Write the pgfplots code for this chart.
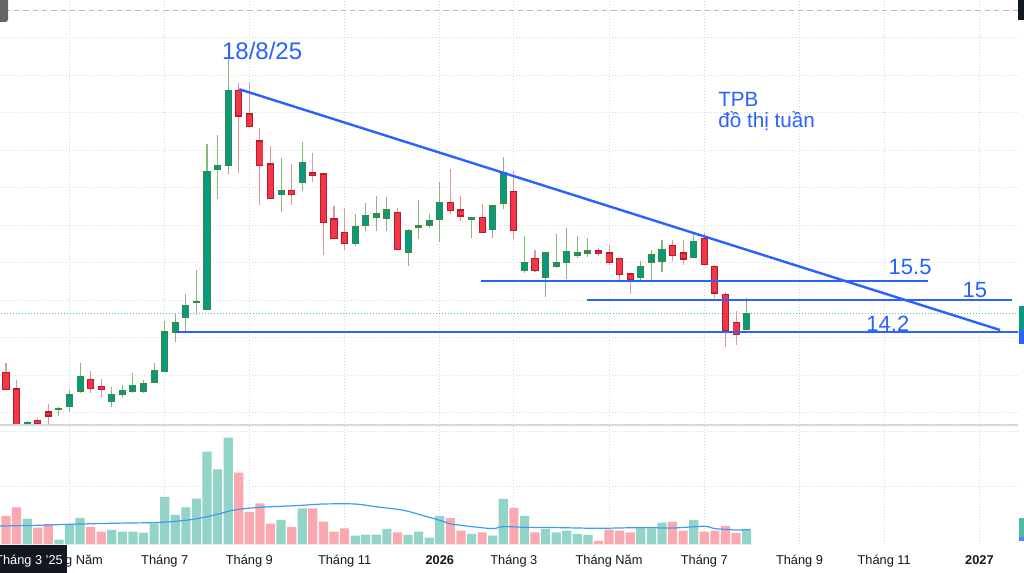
\documentclass[border=0pt]{standalone}
\usepackage{fontspec}
\setmainfont{Liberation Sans}
\usepackage{pgfplots}
\pgfplotsset{compat=1.18}
\usepackage{pgfplotstable}

\definecolor{upbody}{HTML}{089981}
\definecolor{upedge}{HTML}{3B8A3E}
\definecolor{upwick}{HTML}{86B97C}
\definecolor{dnbody}{HTML}{F23645}
\definecolor{dnedge}{HTML}{B71C2C}
\definecolor{dnwick}{HTML}{E3959C}
\definecolor{volup}{HTML}{92D4C8}
\definecolor{voldn}{HTML}{F9A9AF}
\definecolor{tvblue}{HTML}{2962FF}
\definecolor{mablue}{HTML}{3D9BF5}
\definecolor{gridc}{HTML}{D5D8DE}
\definecolor{txt}{HTML}{131722}
\definecolor{lastp}{HTML}{4CC3B0}

% weekly candles, i = week index (0 = week of 24/3/2025)
\pgfplotstableread{
i o h l c v
2 11.667 11.773 11.65 11.728 25.3
5 12.08 12.139 11.907 12.09 4.7
6 12.173 12.6 12.021 12.467 19.7
7 12.581 13.312 12.528 12.947 26.3
10 12.307 12.672 12.139 12.467 14.3
11 12.493 12.733 12.379 12.573 12.7
12 12.581 13.061 12.528 12.715 12.7
13 12.581 12.867 12.528 12.752 11.7
14 12.821 13.312 12.779 13.107 21
15 13.107 14.44 13.088 14.139 47.3
16 14.155 14.619 13.872 14.379 29.3
17 14.539 15.152 14.155 14.848 37
18 14.94 15.8 14.6 14.96 45.7
19 14.76 19.16 14.74 18.421 92.7
20 18.493 19.4 17.685 18.581 75
21 18.6 21.72 18.36 20.581 106.7
26 17.827 18.779 17.339 17.915 24.3
28 18.147 19.205 17.915 18.661 36
33 16.512 17.285 16.448 16.939 8.7
34 17.0 17.579 16.848 17.24 9.7
35 17.221 17.781 16.848 17.285 9.7
36 17.195 17.739 16.848 17.392 15.3
38 16.288 16.893 15.907 16.832 9.3
39 16.955 17.667 16.619 16.975 12.7
40 16.992 17.285 16.912 17.099 6.7
41 17.152 18.155 16.555 17.587 28.3
44 17.152 17.221 16.645 17.195 10.3
46 16.893 17.5 16.645 17.499 8.7
47 17.595 18.805 17.419 18.379 45.3
49 15.792 16.707 15.707 15.995 28.3
51 15.605 16.293 15.093 16.245 15.3
52 15.907 16.752 15.861 16.0 12
53 16.005 16.912 15.552 16.288 13.7
54 16.192 16.707 16.112 16.253 10.3
55 16.245 16.645 16.155 16.299 9.3
60 15.605 16.05 15.533 15.88 16.7
61 16.005 16.33 15.533 16.192 16
62 16.048 16.6 15.739 16.333 21.7
65 16.139 16.779 16.13 16.547 24.3
70 14.235 15.045 14.23 14.63 15.3
}\up

\pgfplotstableread{
i o h l c v
0 13.061 13.328 12.6 12.627 28.3
1 12.619 12.867 11.55 11.587 37
3 11.773 11.845 11.667 11.728 16.7
4 12.005 12.219 11.65 11.915 20.3
8 12.867 13.107 12.528 12.645 17.3
9 12.68 12.885 12.379 12.627 12.7
22 20.581 20.779 18.395 19.915 71.7
23 19.952 20.821 19.63 19.64 32.3
24 19.232 19.579 17.533 18.6 41
25 18.619 19.107 17.70 17.712 20.7
27 17.907 18.627 17.533 17.819 17.3
29 18.379 18.928 18.155 18.333 36
30 18.352 18.36 16.2 17.072 22.7
31 17.152 17.515 16.64 16.645 12.7
32 16.795 17.445 16.333 16.512 16
37 17.328 17.445 16.35 16.352 12
42 17.587 18.493 17.301 17.392 26.3
43 17.392 17.781 17.107 17.248 13.7
45 17.195 17.552 16.80 16.805 12
48 17.888 18.448 16.619 16.853 36.3
50 16.093 16.333 15.747 15.787 12
56 16.299 16.379 16.173 16.245 3.3
57 16.245 16.459 15.941 16.005 14.7
58 16.093 16.10 15.507 15.685 13.7
59 15.685 15.69 15.16 15.56 12
63 16.44 16.6 16.048 16.192 22.7
64 16.245 16.6 15.941 16.101 13.7
66 16.635 16.779 15.95 15.952 12.7
67 15.88 15.933 15.061 15.195 13.7
68 15.141 15.213 13.755 14.2 18.3
69 14.395 14.707 13.8 14.093 11.3
}\down

% volume moving average
\pgfplotstableread{
i ma
-0.6 18.3
3 19
6 20
10 21
14 21.7
16 23
18 25.5
20 30
21 33
22 35
24 37
26 38
28 39
30 40.3
33 40.3
35 37.5
37 35
38 33
39 30
40 27
41 24
42 20.5
43 19
44 17.7
46 15.7
47 17.7
49 17
52 16.7
56 16
60 16.7
63 16.3
66 18
67 15.7
69 14.3
70.3 14.7
}\vma

\pgfplotsset{
  wicks/.style={draw=none, mark=none, forget plot,
    error bars/.cd, y dir=both, y explicit, error mark=none,
    error bar style={line width=0.8pt, draw=#1, solid}},
  bodies/.style 2 args={draw=none, mark=none, forget plot,
    error bars/.cd, y dir=both, y explicit, error mark=none,
    error bar style={line width=#2, draw=#1, solid}},
}

\begin{document}
\begin{tikzpicture}[x=0.75pt,y=0.75pt]
\fill[white] (0,0) rectangle (1024,573);
\useasboundingbox (0,0) rectangle (1024,573);

% ---------------- price pane ----------------
\begin{axis}[
  name=price,
  at={(0pt,111pt)}, anchor=south west,
  scale only axis, width=763.5pt, height=318.75pt,
  xmin=-0.567, xmax=95.65, ymin=11.667, ymax=23,
  axis line style={draw=none},
  xtick={6,15,23,32,41,48,57,66,75,83,92},
  ytick={12,13,...,22},
  xticklabels={}, yticklabels={},
  major tick length=0pt,
  xmajorgrids, ymajorgrids,
  grid style={gridc, line width=0.7pt, dash pattern=on 0.75pt off 1.5pt},
  clip=true,
]
% last-price line
\addplot[lastp, line width=0.7pt, dash pattern=on 0.75pt off 1.5pt, forget plot] coordinates {(-1,14.63) (97,14.63)};
% wicks
\addplot[wicks=upwick] table[x=i, y=c, y error plus expr={\thisrow{h}-\thisrow{c}}, y error minus expr={\thisrow{c}-\thisrow{l}}]{\up};
\addplot[wicks=dnwick] table[x=i, y=c, y error plus expr={\thisrow{h}-\thisrow{c}}, y error minus expr={\thisrow{c}-\thisrow{l}}]{\down};
% bodies: edge then fill
\addplot[bodies={upedge}{5.3pt}] table[x=i, y expr={(\thisrow{o}+\thisrow{c})/2}, y error expr={abs(\thisrow{c}-\thisrow{o})/2+0.024}]{\up};
\addplot[bodies={upbody}{3.9pt}] table[x=i, y expr={(\thisrow{o}+\thisrow{c})/2}, y error expr={max(abs(\thisrow{c}-\thisrow{o})/2-0.01,0)}]{\up};
\addplot[bodies={dnedge}{5.3pt}] table[x=i, y expr={(\thisrow{o}+\thisrow{c})/2}, y error expr={abs(\thisrow{c}-\thisrow{o})/2+0.024}]{\down};
\addplot[bodies={dnbody}{3.9pt}] table[x=i, y expr={(\thisrow{o}+\thisrow{c})/2}, y error expr={max(abs(\thisrow{c}-\thisrow{o})/2-0.01,0)}]{\down};

% drawn lines
\addplot[tvblue, line width=1.8pt, forget plot] coordinates {(22.05,20.62) (93.95,14.2)};
\addplot[tvblue, line width=1.8pt, forget plot] coordinates {(16.04,14.14) (96,14.14)};
\addplot[tvblue, line width=1.8pt, forget plot] coordinates {(44.9,15.5) (87.1,15.5)};
\addplot[tvblue, line width=1.8pt, forget plot] coordinates {(54.9,15.0) (95.1,15.0)};
% top dashed line
\addplot[gray!55, line width=1.1pt, dash pattern=on 4pt off 3pt, forget plot] coordinates {(-1,22.715) (97,22.715)};

% annotations
\node[anchor=base west, inner sep=0pt, text=tvblue, font=\fontsize{18}{20}\selectfont] at (axis cs:20.4,21.4) {18/8/25};
\node[anchor=base west, inner sep=0pt, text=tvblue, font=\fontsize{15.5}{18}\selectfont] at (axis cs:67.3,20.17) {TPB};
\node[anchor=base west, inner sep=0pt, text=tvblue, font=\fontsize{15.5}{18}\selectfont] at (axis cs:67.3,19.61) {đồ thị tuần};
\node[anchor=base west, inner sep=0pt, text=tvblue, font=\fontsize{16.5}{18}\selectfont] at (axis cs:83.4,15.69) {15.5};
\node[anchor=base west, inner sep=0pt, text=tvblue, font=\fontsize{16.5}{18}\selectfont] at (axis cs:90.4,15.08) {15};
\node[anchor=base west, inner sep=0pt, text=tvblue, font=\fontsize{16.5}{18}\selectfont] at (axis cs:81.3,14.17) {14.2};
\end{axis}

% ---------------- volume pane ----------------
\begin{axis}[
  name=vol,
  at={(0pt,21.525pt)}, anchor=south west,
  scale only axis, width=763.5pt, height=89.475pt,
  xmin=-0.567, xmax=95.65, ymin=0, ymax=119.3,
  axis line style={draw=none},
  xtick={6,15,23,32,41,48,57,66,75,83,92},
  xticklabels={Tháng Năm, Tháng 7, Tháng 9, Tháng 11, \textbf{2026}, Tháng 3, Tháng Năm, Tháng 7, Tháng 9, Tháng 11, \textbf{2027}},
  xticklabel style={anchor=base, yshift=-15pt, text=txt, font=\fontsize{9.6}{11}\selectfont},
  ytick={57.6,113.3}, yticklabels={},
  major tick length=0pt,
  xmajorgrids, ymajorgrids,
  grid style={gridc, line width=0.7pt, dash pattern=on 0.75pt off 1.5pt},
  clip=true,
]
\addplot[ybar, bar width=6.9pt, bar shift=0pt, fill=volup, draw=none, forget plot] table[x=i, y=v]{\up};
\addplot[ybar, bar width=6.9pt, bar shift=0pt, fill=voldn, draw=none, forget plot] table[x=i, y=v]{\down};
\addplot[mablue, line width=0.9pt, smooth, forget plot] table[x=i, y=ma]{\vma};
\end{axis}

% pane separator
\draw[gridc, line width=0.9pt] (0,148) -- (1018,148);

% crosshair date label at the left, price-scale bits at the right
\begin{scope}
\clip (0,0) rectangle (1024,573);
\fill[txt] (-20,0) rectangle (67,28);
\node[text=white, font=\fontsize{9.6}{11}\selectfont, anchor=base] at (29,8.5) {Tháng 3 '25};
\fill[upbody] (1019,243) rectangle (1030,267);
\fill[tvblue] (1019,229) rectangle (1030,243);
\fill[upbody!70] (1019,36) rectangle (1030,55);
\fill[tvblue!80] (1019,32) rectangle (1030,36);
\fill[txt] (1018,553) rectangle (1030,575);
\fill[gray!80!black, rounded corners=2pt] (-10,551) rectangle (8,575);
\end{scope}
\end{tikzpicture}
\end{document}
